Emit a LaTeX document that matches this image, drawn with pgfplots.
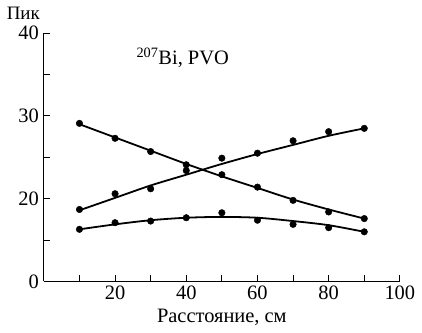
\documentclass[border=0pt]{standalone}
\usepackage{fontspec}
\setmainfont{Liberation Serif}
\usepackage{pgfplots}
\pgfplotsset{compat=1.18}
\begin{document}
\fontsize{20.5}{24}\selectfont
\begin{tikzpicture}
\begin{axis}[
  scale only axis,
  width=357pt, height=249pt,
  xmin=0, xmax=100, ymin=10, ymax=40,
  axis x line*=bottom, axis y line*=left,
  axis line style={-, line width=1pt},
  tick align=inside,
  major tick length=6pt, minor tick length=6pt,
  tick style={line width=0.9pt, black},
  xtick={20,40,60,80,100},
  minor xtick={10,30,50,70,90},
  ytick={10,20,30,40},
  yticklabels={0,20,30,40},
  minor ytick={15,25,35},
  /pgf/number format/assume math mode=true,
  ticklabel style={font=\fontsize{20.5}{24}\selectfont},
  xticklabel style={yshift=3pt},
  yticklabel style={xshift=2pt},
  xlabel={Расстояние, см},
  xlabel style={font=\fontsize{20.5}{24}\selectfont, yshift=4pt},
  clip=false,
]
% fitted curves
\addplot[black, line width=1.8pt, smooth, no marks] coordinates {
 (10,29.0) (20,27.4) (30,25.8) (40,24.2) (50,22.7) (60,21.3) (70,19.9) (80,18.7) (90,17.6)};
\addplot[black, line width=1.8pt, smooth, no marks] coordinates {
 (10,18.6) (20,20.1) (30,21.6) (40,22.9) (50,24.2) (60,25.4) (70,26.5) (80,27.6) (90,28.5)};
\addplot[black, line width=1.8pt, smooth, no marks] coordinates {
 (10,16.3) (20,16.9) (30,17.4) (40,17.7) (50,17.8) (60,17.7) (70,17.3) (80,16.8) (90,16.0)};
% measured points
\addplot[only marks, mark=*, mark size=3.3pt, black] coordinates {
 (10,29.1) (20,27.3) (30,25.7) (40,24.1) (50,22.9) (60,21.4) (70,19.8) (80,18.4) (90,17.6)};
\addplot[only marks, mark=*, mark size=3.3pt, black] coordinates {
 (10,18.7) (20,20.6) (30,21.2) (40,23.4) (50,24.9) (60,25.5) (70,27.0) (80,28.1) (90,28.5)};
\addplot[only marks, mark=*, mark size=3.3pt, black] coordinates {
 (10,16.3) (20,17.1) (30,17.3) (40,17.7) (50,18.3) (60,17.4) (70,16.9) (80,16.5) (90,16.0)};
\node[anchor=base east, font=\fontsize{19}{22}\selectfont] at ([xshift=3pt, yshift=14pt]rel axis cs:0,1) {Пик};
\node[anchor=base, font=\fontsize{20.5}{24}\selectfont] at (axis cs:39,36.2) {\textsuperscript{207}Bi, PVO};
\end{axis}
\end{tikzpicture}
\end{document}
